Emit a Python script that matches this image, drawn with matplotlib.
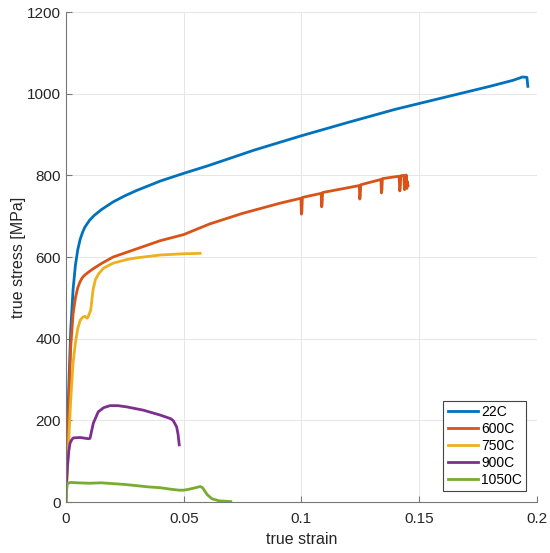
import matplotlib
matplotlib.use("Agg")
import matplotlib.pyplot as plt

plt.rcParams['font.family'] = ['Liberation Sans', 'DejaVu Sans']

labels = ['22C', '600C', '750C', '900C', '1050C']
colors = ['#0072BD', '#D95319', '#EDB120', '#7E2F8E', '#77AC30']

# 22C
strain_22 = [0, 0.001, 0.002, 0.003, 0.004, 0.005, 0.006, 0.007, 0.008, 0.01, 0.012, 0.015,
             0.02, 0.025, 0.03, 0.04, 0.05, 0.06, 0.08, 0.1, 0.12, 0.14, 0.16, 0.18, 0.19,
             0.194, 0.1958, 0.1962]
stress_22 = [0, 250, 420, 520, 580, 618, 643, 660, 673, 690, 702, 716,
             735, 750, 763, 786, 805, 823, 862, 897, 930, 962, 990, 1018, 1033,
             1041, 1040, 1018]

# 600C (with the load drops near the end)
strain_600 = [0, 0.001, 0.002, 0.003, 0.004, 0.005, 0.006, 0.007, 0.008, 0.01, 0.012, 0.015,
              0.02, 0.03, 0.04, 0.05, 0.061, 0.075, 0.091, 0.0998, 0.1, 0.1002, 0.1004,
              0.1084, 0.1086, 0.1088, 0.109, 0.1246, 0.1248, 0.125, 0.1252,
              0.1338, 0.134, 0.1342, 0.1344, 0.1415, 0.1418, 0.142, 0.1422,
              0.1435, 0.1438, 0.144, 0.1443, 0.1445, 0.1448, 0.145, 0.1453]
stress_600 = [0, 200, 380, 460, 500, 525, 540, 550, 556, 565, 573, 584,
              600, 620, 640, 655, 681, 707, 732, 744, 705, 712, 746,
              756, 723, 730, 758, 775, 742, 750, 777,
              790, 757, 765, 792, 798, 762, 770, 799,
              800, 765, 790, 772, 801, 768, 785, 775]

# 750C
strain_750 = [0, 0.001, 0.002, 0.003, 0.004, 0.005, 0.006, 0.007, 0.008, 0.009, 0.0095,
              0.0105, 0.0115, 0.0125, 0.014, 0.016, 0.02, 0.026, 0.03, 0.04, 0.05, 0.057]
stress_750 = [0, 130, 250, 340, 390, 425, 445, 452, 455, 450, 455,
              470, 520, 545, 560, 573, 585, 594, 598, 605, 608, 609]

# 900C
strain_900 = [0, 0.0006, 0.0012, 0.0017, 0.0025, 0.0031, 0.006, 0.0095, 0.0102, 0.0116,
              0.0137, 0.016, 0.0187, 0.022, 0.0258, 0.0328, 0.04, 0.0445, 0.0456, 0.047,
              0.0476, 0.0481]
stress_900 = [29, 86, 125, 144, 153, 157, 158, 155, 156, 193,
              221, 231, 236, 236, 233, 225, 213, 204, 199, 184,
              166, 140]

# 1050C
strain_1050 = [0, 0.0005, 0.002, 0.005, 0.01, 0.015, 0.02, 0.025, 0.03, 0.035, 0.04,
               0.045, 0.048, 0.05, 0.052, 0.055, 0.057, 0.058, 0.06, 0.062, 0.065, 0.07]
stress_1050 = [5, 45, 48, 47, 46, 47, 45, 43, 40, 37, 35,
               31, 29, 29, 31, 35, 38, 35, 18, 8, 3, 1]

xs = [strain_22, strain_600, strain_750, strain_900, strain_1050]
ys = [stress_22, stress_600, stress_750, stress_900, stress_1050]

fig = plt.figure(figsize=(5.5, 5.53), dpi=100)
ax = fig.add_axes([0.12, 0.0922, 0.856, 0.886])

for x, y, c, lab in zip(xs, ys, colors, labels):
    ax.plot(x, y, color=c, lw=2.0, label=lab)

ax.set_xlim(0, 0.2)
ax.set_ylim(0, 1200)
ax.set_xticks([0, 0.05, 0.1, 0.15, 0.2])
ax.set_xticklabels(['0', '0.05', '0.1', '0.15', '0.2'])
ax.set_yticks(range(0, 1201, 200))
ax.grid(True, color='#e6e6e6', lw=0.7)
ax.set_axisbelow(True)
for s in ['top', 'right']:
    ax.spines[s].set_visible(False)
for s in ['left', 'bottom']:
    ax.spines[s].set_color('#777777')
    ax.spines[s].set_linewidth(0.8)
ax.tick_params(direction='in', length=4, width=0.8, color='#777777',
               labelsize=11, labelcolor='#262626')
ax.tick_params(axis='x', pad=7.5)
ax.set_xlabel('true strain', fontsize=11.5, color='#262626', labelpad=4)
ax.set_ylabel('true stress [MPa]', fontsize=11.5, color='#262626', labelpad=1)

leg = ax.legend(loc='lower right', bbox_to_anchor=(0.977, 0.022), fontsize=10,
                handlelength=2.2, handletextpad=0.2, labelspacing=0.22,
                borderpad=0.3, borderaxespad=0, fancybox=False, framealpha=1)
leg.get_frame().set_edgecolor('#444444')
leg.get_frame().set_linewidth(0.8)

fig.savefig('out.png', dpi=100)
